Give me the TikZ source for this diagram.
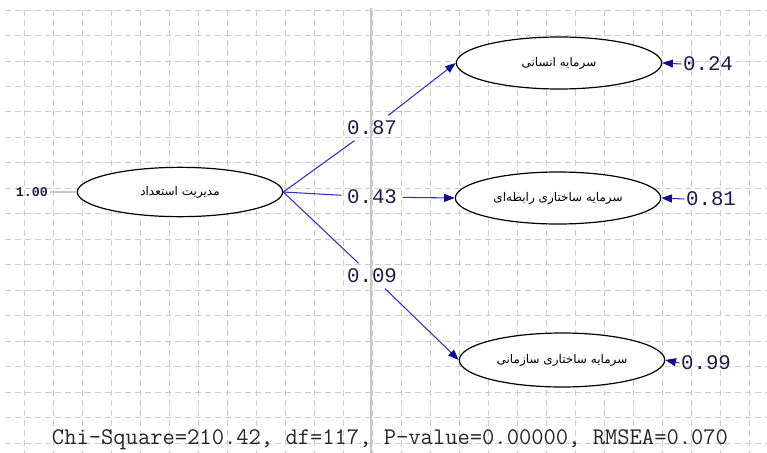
\documentclass[tikz,border=0pt]{standalone}
\usepackage{fontspec}
\usepackage{tikz}
\usetikzlibrary{shapes.geometric,arrows.meta}
\TeXXeTstate=1
\newfontfamily\farsi[Script=Arabic]{DejaVu Sans}
\newfontfamily\lisrel{Liberation Mono}
\definecolor{gridgray}{RGB}{204,204,204}
\definecolor{midgray}{RGB}{200,200,200}
\definecolor{pathblue}{RGB}{50,50,185}
\definecolor{tipblue}{RGB}{15,15,140}
\definecolor{numcol}{RGB}{30,30,70}

\begin{document}
\begin{tikzpicture}[x=0.75pt,y=-0.75pt,
    latent/.style={ellipse,draw,fill=white,line width=0.9pt,minimum width=154pt,minimum height=39pt,inner sep=0pt,font=\farsi\fontsize{9}{11}\selectfont},
    coef/.style={inner sep=4pt,text=numcol,font=\lisrel\fontsize{15.6}{18}\selectfont},
    errval/.style={inner sep=1pt,text=numcol,font=\lisrel\fontsize{15.6}{18}\selectfont},
    loading/.style={draw=pathblue,line width=0.8pt},
    loadarrow/.style={loading,-{Triangle[length=8pt,width=6pt,color=tipblue]}},
    gridline/.style={gridgray,line width=0.6pt,dash pattern=on 4.5pt off 3pt}]
                \useasboundingbox (0,0) rectangle (767,453);

                \foreach \gx in {0,...,25}
                    \draw[gridline] ({24+29*\gx},10) -- ({24+29*\gx},453);
                \foreach \gy in {0,...,17}
                    \draw[gridline] (5,{10+25.47*\gy}) -- (767,{10+25.47*\gy});
                \draw[midgray,line width=1.1pt] (371,8) -- (371,453);

                \node[latent,minimum height=37pt] (talent) at (180,192) {\beginR مدیریت استعداد\endR};
                \node[latent] (human) at (559,63) {\beginR سرمایه انسانی\endR};
                \node[latent] (relational) at (558,198) {\beginR سرمایه ساختاری رابطه‌ای\endR};
                \node[latent,minimum height=40.5pt] (structural) at (562,360) {\beginR سرمایه ساختاری سازمانی\endR};

                \node[inner sep=1pt,text=numcol,font=\lisrel\bfseries\fontsize{10}{12}\selectfont] (one) at (32,192) {1.00};
                \draw[midgray,line width=0.8pt] (one) -- (talent);

                \node[coef] (c87) at (372,128) {0.87};
                \node[coef] (c43) at (372,197) {0.43};
                \node[coef] (c09) at (372,276) {0.09};

                \draw[loading] (talent.east) -- (c87);
                \draw[loadarrow] (c87) -- (human.west);
                \draw[loading] (talent.east) -- (c43);
                \draw[loadarrow] (c43) -- (relational.west);
                \draw[loading] (talent.east) -- (c09);
                \draw[loadarrow] (c09) -- (structural.west);

                \node[errval] (e1) at (708,64) {0.24};
                \node[errval] (e2) at (711,199) {0.81};
                \node[errval] (e3) at (706,363) {0.99};
                \draw[loadarrow] (e1.west) -- (human.east);
                \draw[loadarrow] (e2.west) -- (relational.east);
                \draw[loadarrow] (e3.west) -- (structural.east);

                \node[text=black!85,font=\ttfamily\fontsize{17.9}{21}\selectfont] (fit) at (390,440) {Chi-Square=210.42, df=117, P-value=0.00000, RMSEA=0.070};
\end{tikzpicture}
\end{document}
